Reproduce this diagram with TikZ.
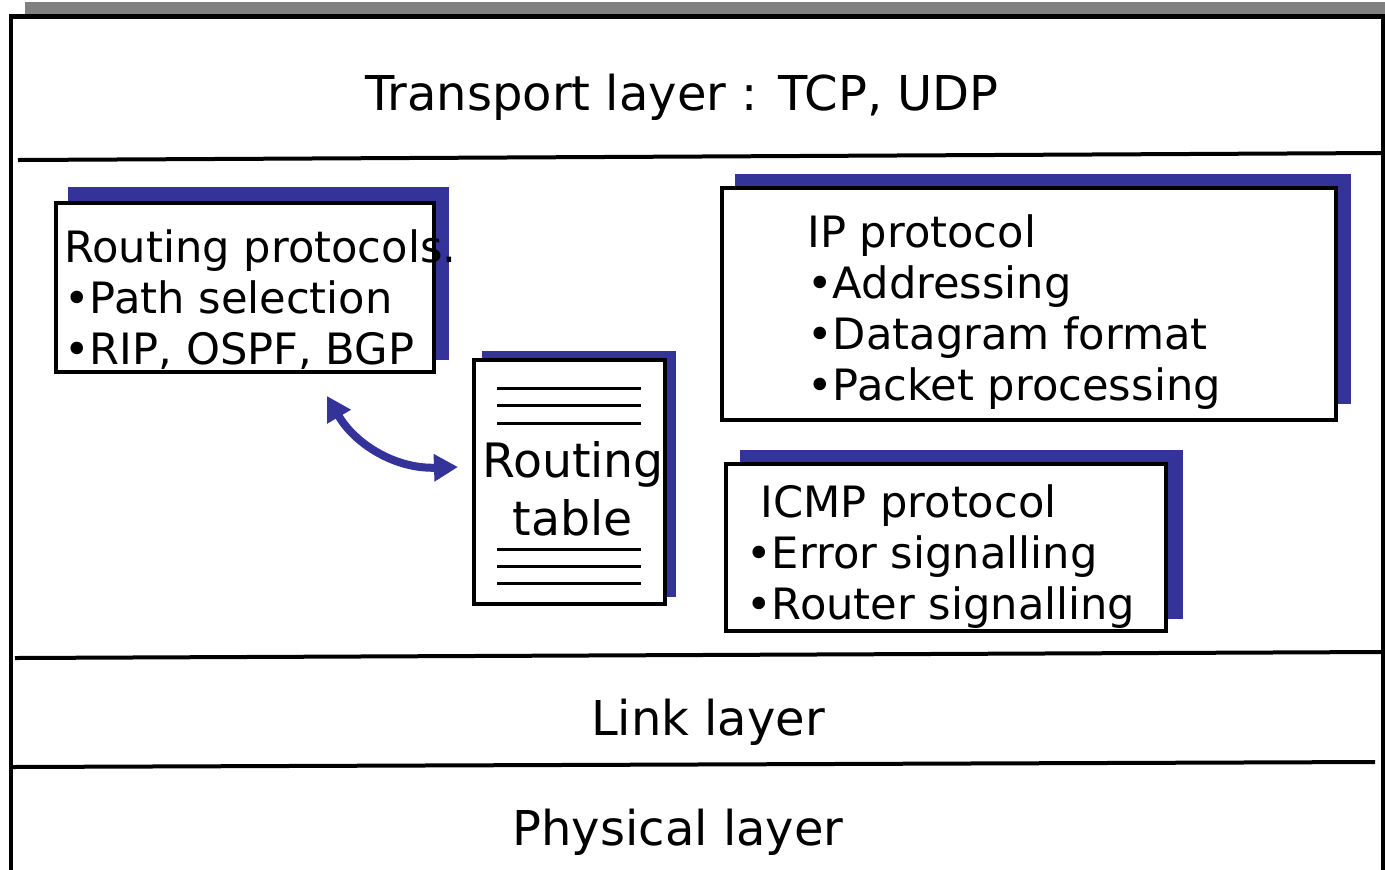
\documentclass[tikz,border=0pt]{standalone}
\usepackage{fontspec}
\setmainfont{DejaVu Sans}
\usetikzlibrary{arrows.meta}
\definecolor{shadowblue}{RGB}{51,51,153}
\definecolor{bargray}{RGB}{128,128,128}

\begin{document}
\begin{tikzpicture}[x=0.5pt,y=-0.5pt]
  \tikzset{
    frame/.style={line width=2.2pt},
    rule/.style={line width=2pt},
    tablerule/.style={line width=1.5pt},
    box/.style={draw, line width=2.2pt, fill=white},
    shade/.style={fill=shadowblue},
    layertext/.style={font=\fontsize{24}{29}\selectfont, inner sep=0pt, anchor=base},
    boxtext/.style={font=\fontsize{21.6}{25.5}\selectfont, inner sep=0pt, anchor=base west, align=left},
    tabletext/.style={font=\fontsize{23.7}{29}\selectfont, inner sep=0pt, anchor=base},
    link/.style={shadowblue, line width=4pt, {Triangle[length=12pt,width=13pt]}-{Triangle[length=12pt,width=13pt]}}
  }
  \useasboundingbox (0,0) rectangle (1385,869);

  \fill [bargray] (25,2) rectangle (1385,14);
  \draw [frame] (11,880) -- (11,16.5) -- (1383,16.5) -- (1383,880);
  \draw [rule] (18,160) -- (1383,153);
  \draw [rule] (15,658) -- (1383,652);
  \draw [rule] (11,767) -- (1375,762);

  \node [layertext] (Transport) at (682,110) {Transport layer : TCP, UDP};
  \node [layertext] (Link) at (708,735) {Link layer};
  \node [layertext] (Physical) at (678,845) {Physical layer};

  \fill [shade] (68,187) rectangle (449,360);
  \draw [box] (56,203) rectangle (434,372);
  \fill [shade] (482,351) rectangle (676,597);
  \draw [box] (474,360) rectangle (665,604);
  \fill [shade] (735,174) rectangle (1351,404);
  \draw [box] (722,188) rectangle (1336,420);
  \fill [shade] (740,450) rectangle (1183,619);
  \draw [box] (726,464) rectangle (1166,631);

  \foreach \y in {388,405,423,549,566,583} {
    \draw [tablerule] (497,\y) -- (641,\y);
  }

  \node [boxtext] (RoutProto) at (64,364)
    {Routing protocols.\\•Path selection\\•RIP, OSPF, BGP};
  \node [tabletext] (RoutTabA) at (573,477) {Routing};
  \node [tabletext] (RoutTabB) at (573,535) {table};
  \node [boxtext] (IPProto) at (807,400)
    {IP protocol\\•Addressing\\•Datagram format\\•Packet processing};
  \node [boxtext] (ICMPProto) at (746,619)
    {\hspace*{7pt}ICMP protocol\\•Error signalling\\•Router signalling};

  \coordinate (LinkA) at (327,396);
  \coordinate (LinkB) at (458,467);
  \draw [link] (LinkA) .. controls (355,444) and (395,469) .. (LinkB);
\end{tikzpicture}
\end{document}
